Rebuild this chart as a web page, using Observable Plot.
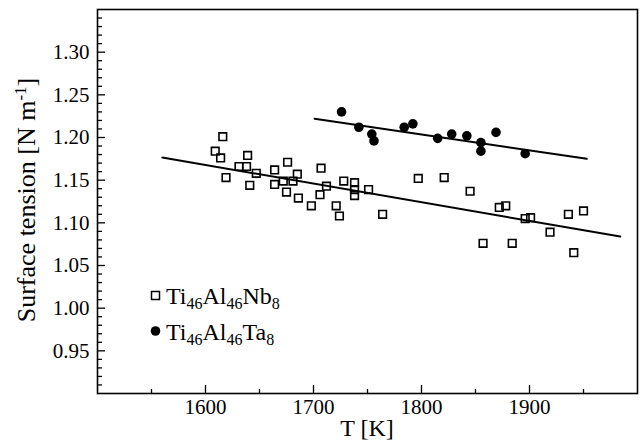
<!DOCTYPE html>
<html><head><meta charset="utf-8">
<script src="https://cdn.jsdelivr.net/npm/d3@7"></script>
<script src="https://cdn.jsdelivr.net/npm/@observablehq/plot@0.6"></script>
<style>body{margin:0;background:#fff} svg text{font-family:"Liberation Serif",serif !important;}</style>
</head><body><div id="chart"></div>
<script>
// Ti46Al46Nb8 (open squares)
const nbT = [1609,1616,1614,1619,1639,1631,1638,1647,1641,1664,1664,1676,1672,1675,1685,1681,1707,1712,1728,1738,1738,1738,1751,1686,1698,1706,1721,1724,1764,1797,1821,1845,1872,1878,1896,1901,1857,1884,1919,1936,1950,1941];
const nbSigma = [1.184,1.201,1.176,1.153,1.179,1.166,1.166,1.158,1.144,1.162,1.145,1.171,1.149,1.136,1.157,1.149,1.164,1.143,1.149,1.147,1.139,1.132,1.139,1.129,1.120,1.133,1.120,1.108,1.110,1.152,1.153,1.137,1.118,1.120,1.105,1.106,1.076,1.076,1.089,1.110,1.114,1.065];
// Ti46Al46Ta8 (filled circles)
const taT = [1726,1742,1754,1756,1784,1792,1815,1828,1842,1855,1855,1869,1896];
const taSigma = [1.230,1.212,1.204,1.196,1.212,1.216,1.199,1.204,1.202,1.194,1.184,1.206,1.181];
// linear fits
const nbFitT = [1560, 1984];
const nbFitSigma = [1.1765, 1.084];
const taFitT = [1701, 1953];
const taFitSigma = [1.222, 1.175];
// ticks
const xTickLabels = [1600, 1700, 1800, 1900];
const xMinorTicks = [1550, 1650, 1750, 1850, 1950];
const yTickLabels = [0.95, 1.00, 1.05, 1.10, 1.15, 1.20, 1.25, 1.30];
const yMinorTicks = d3.range(91, 135).map(d => d / 100).filter(v => Math.round(v * 100) % 5 !== 0);

const nb = nbT.map((t, i) => ({T: t, s: nbSigma[i]}));
const ta = taT.map((t, i) => ({T: t, s: taSigma[i]}));
const nbFit = nbFitT.map((t, i) => ({T: t, s: nbFitSigma[i]}));
const taFit = taFitT.map((t, i) => ({T: t, s: taFitSigma[i]}));

const FONT = "Liberation Serif";

const plot = Plot.plot({
  width: 642, height: 442,
  marginLeft: 97, marginRight: 5, marginTop: 9, marginBottom: 49,
  style: {fontFamily: FONT, fontSize: "21px", background: "#fff", color: "#000"},
  x: {domain: [1500, 2000]},
  y: {domain: [0.90, 1.35]},
  marks: [
    Plot.axisX({ticks: xTickLabels, tickSize: 0, tickPadding: 6, tickFormat: d => String(d), label: null}),
    Plot.axisX({ticks: xTickLabels, tickSize: -8, text: null, label: null, strokeWidth: 1.3}),
    Plot.axisX({ticks: xMinorTicks, tickSize: -4, text: null, label: null, strokeWidth: 1.3}),
    Plot.axisY({ticks: yTickLabels, tickSize: 0, tickPadding: 8, tickFormat: d3.format(".2f"), label: null}),
    Plot.axisY({ticks: yTickLabels, tickSize: -8, text: null, label: null, strokeWidth: 1.3}),
    Plot.axisY({ticks: yMinorTicks, tickSize: -5, text: null, label: null, strokeWidth: 1.3}),
    Plot.line(nbFit, {x: "T", y: "s", stroke: "#000", strokeWidth: 2}),
    Plot.line(taFit, {x: "T", y: "s", stroke: "#000", strokeWidth: 2}),
    Plot.dot(nb, {x: "T", y: "s", symbol: "square", r: 4.3, stroke: "#000", strokeWidth: 1.6, fill: "none"}),
    Plot.dot(ta, {x: "T", y: "s", symbol: "circle", r: 4.8, fill: "#000", stroke: "none"}),
    Plot.frame({stroke: "#000", strokeWidth: 1.6})
  ]
});

const svg = d3.select(plot);
// axis titles
svg.append("text").attr("x", 367).attr("y", 436).attr("text-anchor", "middle")
  .attr("font-family", FONT).attr("font-size", 24).attr("fill", "#000").text("T [K]");
const yt = svg.append("text").attr("transform", "translate(35,200) rotate(-90)").attr("text-anchor", "middle")
  .attr("font-family", FONT).attr("font-size", 26).attr("fill", "#000");
yt.append("tspan").text("Surface tension [N m");
yt.append("tspan").attr("dy", -9).attr("font-size", 17).text("-1");
yt.append("tspan").attr("dy", 9).text("]");

// legend
const lg = svg.append("g");
lg.append("rect").attr("x", 151.5).attr("y", 291.5).attr("width", 8).attr("height", 8).attr("fill", "none").attr("stroke", "#000").attr("stroke-width", 1.5);
lg.append("circle").attr("cx", 155.5).attr("cy", 331).attr("r", 4.8).attr("fill", "#000");
function addLegend(x, y, parts) {
  const t = lg.append("text").attr("x", x).attr("y", y).attr("text-anchor", "start")
    .attr("font-family", FONT).attr("font-size", 24).attr("fill", "#000");
  let shifted = false;
  parts.forEach(([s, sub]) => {
    const sp = t.append("tspan").text(s);
    if (sub) { sp.attr("font-size", 16); if (!shifted) { sp.attr("dy", 5); shifted = true; } }
    else if (shifted) { sp.attr("dy", -5); shifted = false; }
  });
}
addLegend(166, 304, [["Ti", 0], ["46", 1], ["Al", 0], ["46", 1], ["Nb", 0], ["8", 1]]);
addLegend(166, 340, [["Ti", 0], ["46", 1], ["Al", 0], ["46", 1], ["Ta", 0], ["8", 1]]);

document.getElementById("chart").appendChild(plot);
</script>
</body></html>
